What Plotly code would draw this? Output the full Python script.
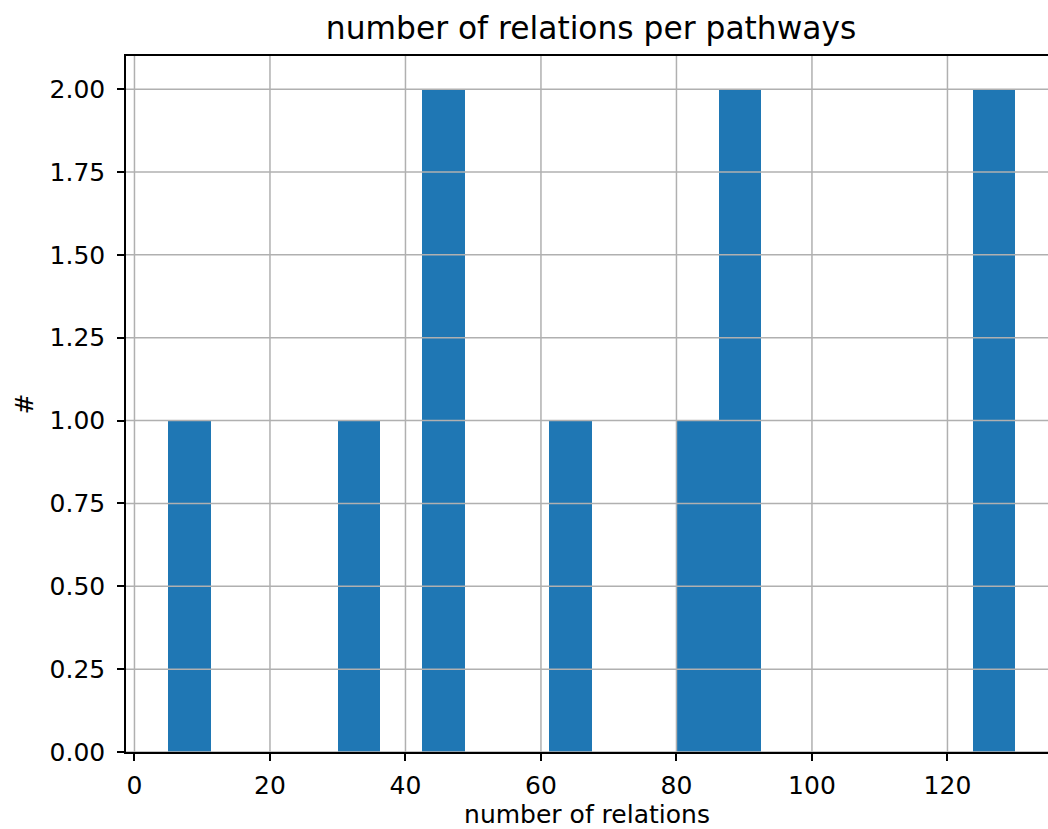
import plotly.graph_objects as go

# number of relations per pathway
relations = [5, 33, 44, 47, 64, 83, 88, 90, 126, 129]
bin_start = 5
bin_end = 130
bin_size = 6.25

x_ticks = [0, 20, 40, 60, 80, 100, 120]
y_ticks = [0, 0.25, 0.5, 0.75, 1.0, 1.25, 1.5, 1.75, 2.0]

x_range = [-1.25, 134.84]
y_range = [0, 2.1]

grid_color = "#b0b0b0"
font_family = "DejaVu Sans"

fig = go.Figure()
fig.add_trace(go.Histogram(
    x=relations,
    xbins=dict(start=bin_start, end=bin_end, size=bin_size),
    marker=dict(color="#1f77b4", line=dict(width=0)),
    hoverinfo="skip",
))

shapes = []
for t in x_ticks:
    shapes.append(dict(type="line", xref="x", yref="paper", x0=t, x1=t, y0=0, y1=1,
                       line=dict(color=grid_color, width=1.5), layer="above"))
for t in y_ticks:
    shapes.append(dict(type="line", xref="paper", yref="y", x0=0, x1=1, y0=t, y1=t,
                       line=dict(color=grid_color, width=1.5), layer="above"))

fig.update_layout(
    width=1048, height=829,
    margin=dict(l=126, r=0, t=56, b=77, autoexpand=False),
    paper_bgcolor="white", plot_bgcolor="white",
    bargap=0,
    showlegend=False,
    font=dict(family=font_family, size=25, color="black"),
    title=dict(text="number of relations per pathways", xref="container", x=0.564,
               xanchor="center", yref="container", y=0.966, yanchor="middle",
               font=dict(size=31.3, family=font_family, color="black"),
               automargin=False),
    shapes=shapes,
)
fig.update_xaxes(
    range=x_range, tickvals=x_ticks, ticktext=[str(t) for t in x_ticks],
    showgrid=False, zeroline=False, automargin=False,
    showline=True, linecolor="black", linewidth=1.5, mirror=True,
    ticks="outside", ticklen=7, tickwidth=1.5, tickcolor="black",
    tickfont=dict(size=25), ticklabelstandoff=3,
    title=dict(text="number of relations", font=dict(size=25), standoff=4),
    layer="above traces",
)
fig.update_yaxes(
    range=y_range, tickvals=y_ticks, tickformat=".2f",
    showgrid=False, zeroline=False, automargin=False,
    showline=True, linecolor="black", linewidth=1.5, mirror=False,
    ticks="outside", ticklen=7, tickwidth=1.5, tickcolor="black",
    tickfont=dict(size=25), ticklabelstandoff=7,
    title=dict(text="#", font=dict(size=25), standoff=9),
    layer="above traces",
)

fig.write_html(
    "out.html",
    config={"displayModeBar": False},
    post_script="document.body.style.margin='0';document.body.style.overflow='hidden';",
)
